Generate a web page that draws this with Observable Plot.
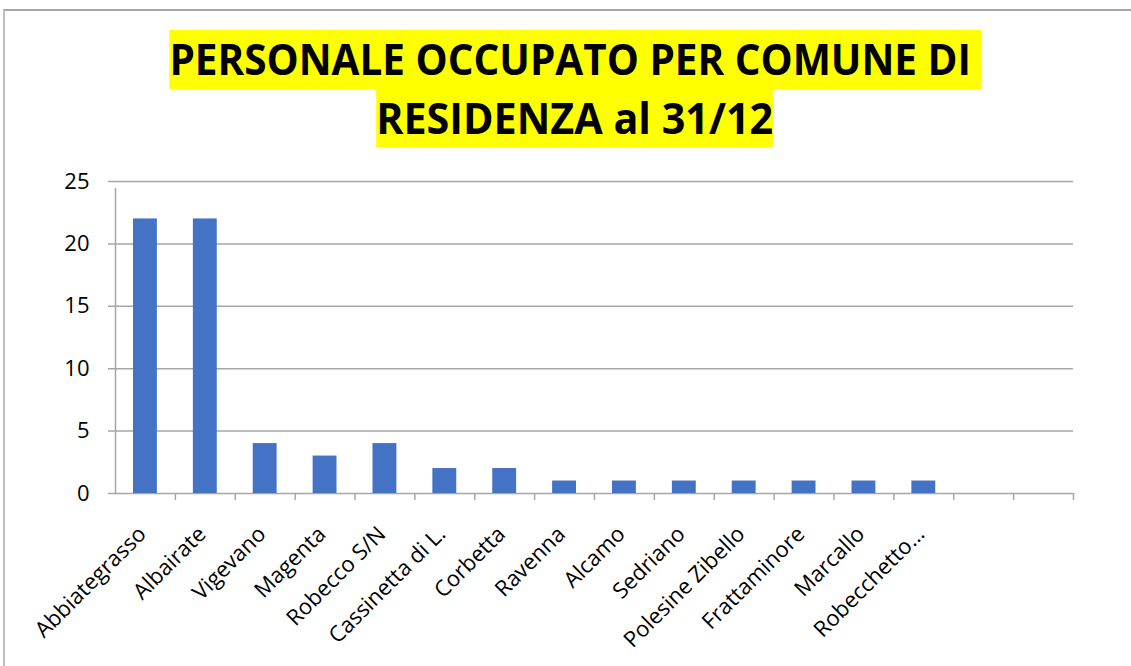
<!DOCTYPE html>
<html>
<head>
<meta charset="utf-8">
<script src="https://cdn.jsdelivr.net/npm/d3@7"></script>
<script src="https://cdn.jsdelivr.net/npm/@observablehq/plot@0.6"></script>
<style>
  html, body { margin: 0; padding: 0; background: #fff; }
  #wrap { position: relative; width: 1131px; height: 666px; overflow: hidden; font-family: "Open Sans", sans-serif; }
  #frame { position: absolute; z-index: 5; left: 3px; top: 9px; width: 1300px; height: 800px; border-top: 2px solid #a6a6a6; border-left: 2px solid #c0c0c0; box-sizing: border-box; pointer-events: none; }
  #title { position: absolute; left: 0; width: 1150px; top: 30px; text-align: center; font-weight: 700; color: #000; z-index: 3; }
  #title .line { height: 58.5px; line-height: 58.5px; white-space: nowrap; }
  #title .hl { display: inline-block; background: #ffff00; font-size: 43px; white-space: pre; transform-origin: center; }
  #chart { position: absolute; left: 0; top: 150px; }
</style>
</head>
<body>
<div id="wrap">
  <div id="frame"></div>
  <div id="title">
    <div class="line"><span class="hl" data-w="812">PERSONALE OCCUPATO PER COMUNE DI </span></div>
    <div class="line"><span class="hl" data-w="397">RESIDENZA al 31/12</span></div>
  </div>
  <div id="chart"></div>
</div>
<script>
// Data
const labels = ["Abbiategrasso", "Albairate", "Vigevano", "Magenta", "Robecco S/N", "Cassinetta di L.", "Corbetta", "Ravenna", "Alcamo", "Sedriano", "Polesine Zibello", "Frattaminore", "Marcallo", "Robecchetto…", "", ""];
const values = [22, 22, 4, 3, 4, 2, 2, 1, 1, 1, 1, 1, 1, 1, null, null];
const yTicks = [0, 5, 10, 15, 20, 25];

// Fit title highlight widths
document.querySelectorAll("#title .hl").forEach(s => {
  const w = s.getBoundingClientRect().width;
  s.style.transform = `scaleX(${(+s.dataset.w) / w})`;
});

const W = 1131, H = 516, mL = 115, mR = 58, mT = 31, mB = 173;
const idx = labels.map((_, i) => i);
const step = (W - mL - mR) / labels.length;
const data = idx.map(i => ({i, v: values[i]}));
const grid = "#a6a6a6";

const chart = Plot.plot({
  width: W, height: H,
  marginLeft: mL, marginRight: mR, marginTop: mT, marginBottom: mB,
  style: {fontFamily: "'Open Sans', sans-serif", background: "transparent", color: "#000"},
  x: {type: "band", domain: idx, padding: 0, round: false, axis: null},
  y: {domain: [0, 25], axis: null},
  marks: [
    Plot.ruleY(yTicks, {stroke: grid, strokeWidth: 1.5, insetLeft: -7}),
    // y axis line
    Plot.ruleX([0], {x: d => d, y1: 0, y2: 25, dx: -step / 2, insetBottom: -7, stroke: grid, strokeWidth: 1.5}),
    // category boundary ticks
    Plot.ruleX(idx.slice(1), {x: d => d, y1: 0, y2: 0, dx: -step / 2, insetBottom: -7, stroke: grid, strokeWidth: 1.5}),
    Plot.ruleX([idx[idx.length - 1]], {x: d => d, y1: 0, y2: 0, dx: step / 2, insetBottom: -7, stroke: grid, strokeWidth: 1.5}),
    Plot.barY(data.filter(d => d.v != null), {x: "i", y: "v", fill: "#4472C4", insetLeft: 18, insetRight: 18}),
    Plot.axisY({ticks: yTicks, tickSize: 0, tickPadding: 26, fontSize: 22, label: null, tickFormat: d => d}),
    Plot.text(idx, {x: d => d, y: () => 0, text: d => labels[d], rotate: -45, textAnchor: "end", lineAnchor: "middle", dx: -3, dy: 37, fontSize: 22, fill: "#000"})
  ]
});
document.getElementById("chart").appendChild(chart);
</script>
</body>
</html>
